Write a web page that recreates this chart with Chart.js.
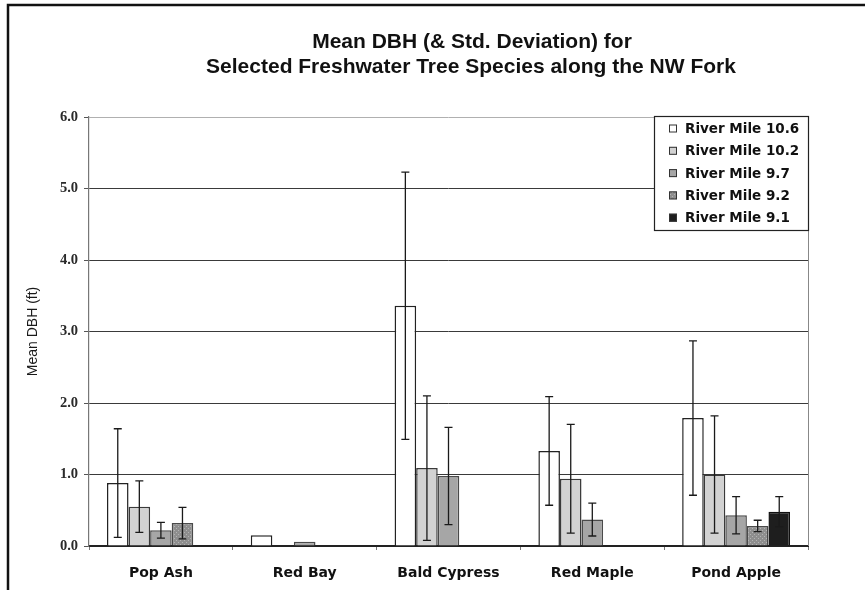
<!DOCTYPE html>
<html>
<head>
<meta charset="utf-8">
<script src="https://cdn.jsdelivr.net/npm/chart.js@4/dist/chart.umd.min.js"></script>
<style>
  html, body { margin: 0; padding: 0; background: #fff; }
  #wrap { width: 865px; height: 590px; }
</style>
</head>
<body>
<div id="wrap"><canvas id="canvas-1" width="865" height="590"></canvas></div>
<script>
const categories = ['Pop Ash', 'Red Bay', 'Bald Cypress', 'Red Maple', 'Pond Apple']
const seriesNames = ['River Mile 10.6', 'River Mile 10.2', 'River Mile 9.7', 'River Mile 9.2', 'River Mile 9.1']

// mean DBH (ft)
const rm106 = [0.88, 0.15, 3.36, 1.33, 1.79]
const rm102 = [0.55, null, 1.09, 0.94, 1.00]
const rm97 = [0.22, 0.06, 0.98, 0.37, 0.43]
const rm92 = [0.32, null, null, null, 0.28]
const rm91 = [null, null, null, null, 0.48]

// std. deviation (ft)
const sd106 = [0.76, null, 1.87, 0.76, 1.08]
const sd102 = [0.36, null, 1.01, 0.76, 0.82]
const sd97 = [0.11, null, 0.68, 0.23, 0.26]
const sd92 = [0.22, null, null, null, 0.08]
const sd91 = [null, null, null, null, 0.21]

const yTicks = [0, 1, 2, 3, 4, 5, 6]

const errors = [sd106, sd102, sd97, sd92, sd91]

// small dotted grey pattern for River Mile 9.2
const makePattern = () => {
  const c = document.createElement('canvas')
  c.width = 4; c.height = 4
  const g = c.getContext('2d')
  g.fillStyle = '#8e8e8e'
  g.fillRect(0, 0, 4, 4)
  g.fillStyle = '#b4b4b4'
  g.fillRect(0, 0, 1, 1)
  g.fillRect(2, 2, 1, 1)
  return g.createPattern(c, 'repeat')
}

const frame = {
  id: 'frame',
  beforeDraw(chart) {
    const ctx = chart.ctx
    ctx.save()
    ctx.fillStyle = '#fff'
    ctx.fillRect(0, 0, chart.width, chart.height)
    ctx.strokeStyle = '#111'
    ctx.lineWidth = 2.5
    ctx.beginPath()
    ctx.moveTo(chart.width, 5)
    ctx.lineTo(8, 5)
    ctx.lineTo(8, chart.height)
    ctx.stroke()
    ctx.restore()
  },
  beforeDatasetsDraw(chart) {
    const {ctx, chartArea} = chart
    ctx.save()
    ctx.strokeStyle = '#888'
    ctx.lineWidth = 1
    ctx.beginPath()
    ctx.moveTo(chartArea.right + 0.5, chartArea.top)
    ctx.lineTo(chartArea.right + 0.5, chartArea.bottom)
    ctx.stroke()
    ctx.restore()
  }
}

const errorBars = {
  id: 'errorBars',
  afterDatasetsDraw(chart) {
    const ctx = chart.ctx
    const y = chart.scales.y
    ctx.save()
    ctx.strokeStyle = '#1a1a1a'
    ctx.lineWidth = 1.3
    chart.data.datasets.forEach((ds, i) => {
      chart.getDatasetMeta(i).data.forEach((bar, j) => {
        const sd = errors[i][j]
        const v = ds.data[j]
        if (sd == null || v == null) return
        const top = y.getPixelForValue(v + sd)
        const bot = y.getPixelForValue(Math.max(0, v - sd))
        ctx.beginPath()
        ctx.moveTo(bar.x, top); ctx.lineTo(bar.x, bot)
        ctx.moveTo(bar.x - 4, top); ctx.lineTo(bar.x + 4, top)
        ctx.moveTo(bar.x - 4, bot); ctx.lineTo(bar.x + 4, bot)
        ctx.stroke()
      })
    })
    ctx.restore()
  }
}

const boxLegend = {
  id: 'boxLegend',
  afterDraw(chart) {
    const {ctx, chartArea} = chart
    const w = 154, h = 114
    const x0 = chartArea.right - w, y0 = chartArea.top - 1
    ctx.save()
    ctx.fillStyle = '#fff'
    ctx.fillRect(x0, y0, w, h)
    ctx.strokeStyle = '#222'
    ctx.lineWidth = 1.2
    ctx.strokeRect(x0 + 0.5, y0 + 0.5, w, h)
    ctx.font = 'bold 13.5px "DejaVu Sans"'
    ctx.textBaseline = 'middle'
    chart.data.datasets.forEach((ds, i) => {
      const cy = y0 + 12.5 + i * 22.3
      ctx.fillStyle = ds.backgroundColor
      ctx.fillRect(x0 + 15, cy - 4, 8, 8)
      ctx.strokeStyle = '#333'
      ctx.lineWidth = 1
      ctx.strokeRect(x0 + 15.5, cy - 3.5, 7, 7)
      ctx.fillStyle = '#111'
      ctx.fillText(ds.label, x0 + 31, cy + 1)
    })
    ctx.restore()
  }
}

const twoLineTitle = {
  id: 'twoLineTitle',
  afterDraw(chart) {
    const ctx = chart.ctx
    ctx.save()
    ctx.font = 'bold 21px "Liberation Sans"'
    ctx.fillStyle = '#111'
    ctx.textAlign = 'center'
    ctx.textBaseline = 'alphabetic'
    ctx.fillText('Mean DBH (& Std. Deviation) for', 472, 48)
    ctx.fillText('Selected Freshwater Tree Species along the NW Fork', 471, 73)
    ctx.restore()
  }
}

const pattern92 = makePattern()

const dbhChart = new Chart(document.getElementById('canvas-1'), {
  type: 'bar',
  data: {
    labels: categories,
    datasets: [
      { label: seriesNames[0], data: rm106, backgroundColor: '#ffffff', borderColor: '#222' },
      { label: seriesNames[1], data: rm102, backgroundColor: '#d2d2d2', borderColor: '#3a3a3a' },
      { label: seriesNames[2], data: rm97, backgroundColor: '#a6a6a6', borderColor: '#4a4a4a' },
      { label: seriesNames[3], data: rm92, backgroundColor: pattern92, borderColor: '#4a4a4a' },
      { label: seriesNames[4], data: rm91, backgroundColor: '#1e1e1e', borderColor: '#111' }
    ]
  },
  options: {
    responsive: false,
    animation: false,
    layout: { padding: { left: 0, right: 57, top: 117, bottom: 0 } },
    datasets: {
      bar: { categoryPercentage: 0.75, barPercentage: 1.0, borderWidth: 1.5, borderSkipped: 'bottom' }
    },
    plugins: {
      legend: { display: false },
      title: { display: false },
      tooltip: { enabled: false }
    },
    scales: {
      x: {
        afterFit: (s) => { s.height = 44 },
        grid: { display: true, drawOnChartArea: false, offset: true, tickLength: 4, color: '#777' },
        border: { color: '#222', width: 2 },
        ticks: { color: '#111', padding: 15, font: { family: 'DejaVu Sans', size: 14, weight: 'bold' } }
      },
      y: {
        min: 0,
        max: 6,
        afterFit: (s) => { s.width = 89 },
        afterBuildTicks: (s) => { s.ticks = yTicks.map(v => ({ value: v })) },
        grid: {
          color: (c) => c.tick && c.tick.value === 6 ? '#b0b0b0' : '#3a3a3a',
          tickColor: '#555',
          tickLength: 5,
          lineWidth: 1
        },
        border: { color: '#777', width: 1.2 },
        ticks: {
          color: '#2a2a2a',
          padding: 6,
          font: { family: 'Liberation Serif', size: 14.5, weight: 'bold' },
          callback: (v) => Number(v).toFixed(1)
        },
        title: {
          display: true,
          text: 'Mean DBH (ft)',
          color: '#1a1a1a',
          padding: { top: 25, bottom: 0 },
          font: { family: 'Liberation Sans', size: 14 }
        }
      }
    }
  },
  plugins: [frame, errorBars, boxLegend, twoLineTitle]
})
</script>
</body>
</html>
